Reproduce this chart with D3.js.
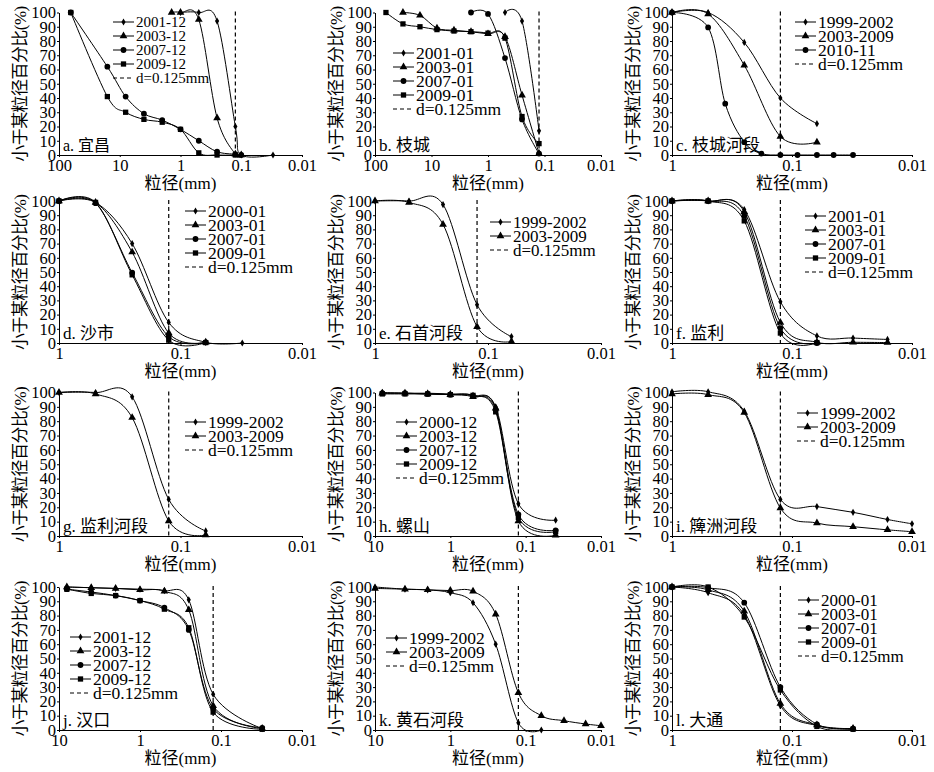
<!DOCTYPE html>
<html>
<head>
<meta charset="utf-8">
<script src="https://cdn.jsdelivr.net/npm/d3@7"></script>
<style>
body { margin: 0; background: #fff; }
</style>
</head>
<body>
<svg id="chart" width="934" height="772"></svg>
<script>
// grain sizes (mm) and percent finer for each station, one row per series
const sizesA = [64, 16, 8, 4, 2, 1.4, 1, 0.5, 0.25, 0.125, 0.1, 0.03];
const yearsA = ["2001-12", "2003-12", "2007-12", "2009-12"];
const pctA = [
  [null, null, null, null, null, null, 100, 100, 94, 20, 0, 0],
  [null, null, null, null, null, 100, 100, 95, 26, 0.5, 0, null],
  [100, 62, 41, 29, 24.5, null, 18, 10, 2.3, 0.5, 0, null],
  [100, 41, 30, 25, 23, null, 18, 1.5, 0, 0, null, null]
];

const sizesB = [64, 32, 16, 8, 4, 2, 1, 0.5, 0.25, 0.125];
const yearsB = ["2001-01", "2003-01", "2007-01", "2009-01"];
const pctB = [
  [null, null, null, null, null, null, null, 100, 94, 17],
  [null, 100, 98, 89, 87.5, 86.5, 85, 83, 42, 1],
  [null, null, null, null, null, 100, 99, 68, 25, 1],
  [100, 92, 90, 88, 87, 86.5, 85.5, 82, 27, 8]
];

const sizesC = [1, 0.5, 0.36, 0.25, 0.18, 0.125, 0.09, 0.062, 0.045, 0.031];
const yearsC = ["1999-2002", "2003-2009", "2010-11"];
const pctC = [
  [100, 100, null, 79, null, 40, null, 22, null, null],
  [100, 99, null, 63, null, 13, null, 9, null, null],
  [100, 89.5, 36, 9, 1, 0, 0, 0, 0, 0]
];

const sizesD = [1, 0.5, 0.25, 0.125, 0.062, 0.031];
const yearsD = ["2000-01", "2003-01", "2007-01", "2009-01"];
const pctD = [
  [100, 99, 70, 14.5, 0.5, 0],
  [100, 99, 64, 7, 0.5, null],
  [100, 98.5, 49.5, 4.5, 0.5, null],
  [100, 99, 48, 2, 0.3, null]
];

const sizesE = [1, 0.5, 0.25, 0.125, 0.062];
const yearsE = ["1999-2002", "2003-2009"];
const pctE = [
  [100, 100, 97.5, 27, 4.5],
  [100, 99, 83.5, 11.5, 1]
];

const sizesF = [1, 0.5, 0.25, 0.125, 0.062, 0.031, 0.016];
const yearsF = ["2001-01", "2003-01", "2007-01", "2009-01"];
const pctF = [
  [100, 100, 94, 29, 5, 3.5, 2.5],
  [100, 100, 92.5, 14.5, 0.5, 0.5, 0.3],
  [100, 100, 89.5, 10.5, 0, null, null],
  [100, 100, 86, 7, 0.3, null, null]
];

const sizesG = [1, 0.5, 0.25, 0.125, 0.062];
const yearsG = ["1999-2002", "2003-2009"];
const pctG = [
  [100, 100, 97, 25.5, 3.5],
  [100, 99, 82.5, 10.5, 0.7]
];

const sizesH = [8, 4, 2, 1, 0.5, 0.25, 0.125, 0.04];
const yearsH = ["2000-12", "2003-12", "2007-12", "2009-12"];
const pctH = [
  [100, 99.5, 99.5, 99, 98, 90, 22.5, 11],
  [99.5, 99.5, 99, 98.5, 97, 89, 10.5, 0.5],
  [99.5, 99.5, 99, 98.5, 97.5, 88, 15, 4],
  [99, 99, 99, 98.5, 98, 86.5, 13, 3]
];

const sizesI = [1, 0.5, 0.25, 0.125, 0.062, 0.031, 0.016, 0.01];
const yearsI = ["1999-2002", "2003-2009"];
const pctI = [
  [100.5, 100.5, 87, 25.5, 20.5, 16.5, 11.5, 8.5],
  [99, 98.5, 86, 19.5, 9, 6.5, 4.3, 3]
];

const sizesJ = [8, 4, 2, 1, 0.5, 0.25, 0.125, 0.031];
const yearsJ = ["2001-12", "2003-12", "2007-12", "2009-12"];
const pctJ = [
  [100, 99.5, 99, 98.5, 97.5, 91, 25, 1],
  [100, 99.5, 99, 98, 97, 84, 17, 1],
  [98.5, 96.5, 94, 90.5, 85.5, 70, 15, 1.5],
  [98.5, 95.5, 94, 90.5, 84.5, 71.5, 12.5, 0.5]
];

const sizesK = [10, 4, 2, 1, 0.5, 0.25, 0.125, 0.062, 0.031, 0.016, 0.01];
const yearsK = ["1999-2002", "2003-2009"];
const pctK = [
  [100, 98.5, 98, 96, 89, 60, 5, 0, null, null, null],
  [99, 98.5, 98, 97.5, 97, 81, 26, 10, 6.5, 4.2, 3]
];

const sizesL = [1, 0.5, 0.25, 0.125, 0.062, 0.031];
const yearsL = ["2000-01", "2003-01", "2007-01", "2009-01"];
const pctL = [
  [100, 96, 80.5, 17, 3, 1],
  [100, 98, 83, 18.5, 3.5, 1],
  [100, 99.5, 89, 30, 4, 1],
  [100, 100, 79, 28, 2.5, 0.5]
];

const stations = ["a. 宜昌", "b. 枝城", "c. 枝城河段", "d. 沙市", "e. 石首河段", "f. 监利",
                  "g. 监利河段", "h. 螺山", "i. 簰洲河段", "j. 汉口", "k. 黄石河段", "l. 大通"];
const xMaxes = [100, 100, 1, 1, 1, 1, 1, 10, 1, 10, 10, 1];
const xTickValues = [100, 10, 1, 0.1, 0.01];
const yTickValues = [0, 10, 20, 30, 40, 50, 60, 70, 80, 90, 100];
const criticalSize = 0.125;

// layout
const FONT = "'Liberation Serif', 'Times New Roman', 'DejaVu Serif', 'Noto Sans CJK SC', serif";
const colLeft = [59, 375, 672], colRight = [302, 601, 912];
const rowTop = [12.5, 201, 392.5, 587], rowBottom = [155, 343, 536, 730];
const legendPos = [[113, 22], [393, 53], [795, 22], [185, 211], [490, 222], [805, 216],
                   [185, 422], [396, 422], [797, 413], [70, 637], [386, 638], [798, 600]];
const legendFont = [15, 17.5, 17.5, 17.5, 17, 17.5, 17.5, 17.5, 17.5, 17.5, 17.5, 17];
const legendStep = 14;

const symbolTypes = [d3.symbolDiamond, d3.symbolTriangle, d3.symbolCircle, d3.symbolSquare];
const symbolSizes = [15, 26, 26, 28];

const panels = [
  [sizesA, pctA, yearsA], [sizesB, pctB, yearsB], [sizesC, pctC, yearsC],
  [sizesD, pctD, yearsD], [sizesE, pctE, yearsE], [sizesF, pctF, yearsF],
  [sizesG, pctG, yearsG], [sizesH, pctH, yearsH], [sizesI, pctI, yearsI],
  [sizesJ, pctJ, yearsJ], [sizesK, pctK, yearsK], [sizesL, pctL, yearsL]
].map((d, i) => ({ sizes: d[0], pct: d[1], years: d[2], name: stations[i], xmax: xMaxes[i] }));

const svg = d3.select("#chart").style("font-family", FONT);

panels.forEach(function(p, i) {
  const col = i % 3, row = Math.floor(i / 3);
  const x = d3.scaleLog().domain([p.xmax, 0.01]).range([colLeft[col], colRight[col]]);
  const y = d3.scaleLinear().domain([0, 100]).range([rowBottom[row], rowTop[row]]);
  const g = svg.append("g").attr("class", "panel");

  // axes
  g.append("g")
    .attr("transform", "translate(" + colLeft[col] + ",0)")
    .call(d3.axisLeft(y).tickValues(yTickValues).tickSize(2).tickSizeOuter(0).tickPadding(1))
    .attr("font-size", 16.5);

  g.append("g")
    .attr("transform", "translate(0," + rowBottom[row] + ")")
    .call(d3.axisBottom(x).tickValues(xTickValues.filter(v => v <= p.xmax))
      .tickFormat(d => String(d)).tickSize(2).tickSizeOuter(0).tickPadding(2))
    .attr("font-size", 16.5);

  g.selectAll(".domain, .tick line").attr("stroke", "#000");

  // axis titles
  g.append("text")
    .attr("x", (colLeft[col] + colRight[col]) / 2)
    .attr("y", rowBottom[row] + 34)
    .attr("text-anchor", "middle")
    .attr("font-size", 17)
    .text("粒径(mm)");

  const cy = (rowTop[row] + rowBottom[row]) / 2;
  g.append("text")
    .attr("transform", "translate(" + (colLeft[col] - 39) + "," + cy + ") rotate(-90)")
    .attr("text-anchor", "middle")
    .attr("dominant-baseline", "central")
    .attr("font-size", 17)
    .attr("textLength", 156)
    .attr("lengthAdjust", "spacing")
    .text("小于某粒径百分比(%)");

  // critical size line
  g.append("line")
    .attr("x1", x(criticalSize)).attr("x2", x(criticalSize))
    .attr("y1", y(100) - 1).attr("y2", y(0))
    .attr("stroke", "#000").attr("stroke-width", 1.2)
    .attr("stroke-dasharray", "4,3");

  // series
  const line = d3.line()
    .x(d => x(d[0]))
    .y(d => y(d[1]))
    .curve(d3.curveCardinal.tension(0));

  p.pct.forEach(function(vals, s) {
    const pts = p.sizes.map((d, k) => [d, vals[k]]).filter(d => d[1] != null);
    g.append("path")
      .attr("d", line(pts))
      .attr("fill", "none")
      .attr("stroke", "#000")
      .attr("stroke-width", 1);
    g.selectAll(null)
      .data(pts)
      .join("path")
      .attr("transform", d => "translate(" + x(d[0]) + "," + y(d[1]) + ")")
      .attr("d", d3.symbol(symbolTypes[s], symbolSizes[s]))
      .attr("fill", "#000");
  });

  // panel label
  g.append("text")
    .attr("x", colLeft[col] + 4)
    .attr("y", rowBottom[row] - 4)
    .attr("font-size", i === 0 ? 16 : 17)
    .text(p.name);

  // legend
  const lx = legendPos[i][0], ly = legendPos[i][1], fs = legendFont[i];
  const leg = g.append("g").attr("font-size", fs);
  p.years.forEach(function(t, s) {
    const yy = ly + s * legendStep;
    leg.append("line").attr("x1", lx).attr("x2", lx + 21).attr("y1", yy).attr("y2", yy)
      .attr("stroke", "#000").attr("stroke-width", 1);
    leg.append("path").attr("transform", "translate(" + (lx + 10.5) + "," + yy + ")")
      .attr("d", d3.symbol(symbolTypes[s], symbolSizes[s])).attr("fill", "#000");
    leg.append("text").attr("x", lx + 23).attr("y", yy).attr("dy", "0.35em").text(t);
  });
  const yd = ly + p.years.length * legendStep;
  leg.append("line").attr("x1", lx).attr("x2", lx + 21).attr("y1", yd).attr("y2", yd)
    .attr("stroke", "#000").attr("stroke-width", 1.2).attr("stroke-dasharray", "4,3");
  leg.append("text").attr("x", lx + 23).attr("y", yd).attr("dy", "0.35em")
    .text("d=" + criticalSize + "mm");
});

// every text gets the serif family directly, so the axis default does not win
svg.selectAll("text").style("font-family", FONT).attr("fill", "#000");
</script>
</body>
</html>
